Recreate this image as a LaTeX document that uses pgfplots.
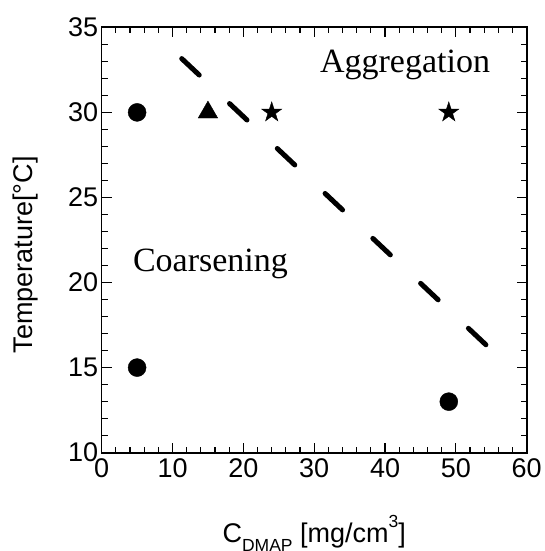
\documentclass[border=0pt]{standalone}
\usepackage{fontspec}
\setmainfont{Liberation Sans}
\newfontfamily\timesfont{Liberation Serif}
\usepackage{pgfplots}
\pgfplotsset{compat=1.18}
\pgfdeclareplotmark{fstar}{%
  \pgfpathmoveto{\pgfpointpolar{90}{\pgfplotmarksize}}%
  \pgfpathlineto{\pgfpointpolar{126}{0.382\pgfplotmarksize}}%
  \pgfpathlineto{\pgfpointpolar{162}{\pgfplotmarksize}}%
  \pgfpathlineto{\pgfpointpolar{198}{0.382\pgfplotmarksize}}%
  \pgfpathlineto{\pgfpointpolar{234}{\pgfplotmarksize}}%
  \pgfpathlineto{\pgfpointpolar{270}{0.382\pgfplotmarksize}}%
  \pgfpathlineto{\pgfpointpolar{306}{\pgfplotmarksize}}%
  \pgfpathlineto{\pgfpointpolar{342}{0.382\pgfplotmarksize}}%
  \pgfpathlineto{\pgfpointpolar{18}{\pgfplotmarksize}}%
  \pgfpathlineto{\pgfpointpolar{54}{0.382\pgfplotmarksize}}%
  \pgfpathclose
  \pgfusepathqfillstroke}
\begin{document}
\begin{tikzpicture}
\path[use as bounding box] (-101.7pt,-98.3pt) rectangle (442.3pt,452.7pt);
\begin{axis}[
  at={(0pt,0pt)}, anchor=south west,
  scale only axis, width=425pt, height=425.4pt,
  xmin=0, xmax=60, ymin=10, ymax=35,
  xtick={0,10,...,60}, ytick={10,15,...,35},
  minor x tick num=4, minor y tick num=4,
  tick align=inside,
  major tick length=10pt, minor tick length=6pt,
  axis line style={line width=1.6pt},
  every tick/.style={line width=1.1pt, black},
  /pgf/number format/assume math mode=true,
  ticklabel style={font=\fontsize{27}{32}\selectfont},
  xticklabel style={yshift=-2pt},
  xlabel={C\raisebox{-9.6pt}{\fontsize{17.5}{20}\selectfont DMAP} [mg/cm\raisebox{14.4pt}{\fontsize{17.5}{20}\selectfont 3}]},
  ylabel={Temperature[°C]},
  label style={font=\fontsize{27}{32}\selectfont},
  xlabel style={at={(axis description cs:0.5,-0.21)}, anchor=base, inner sep=0pt},
  ylabel style={at={(axis description cs:-0.2087,0.465)}, anchor=north, inner sep=0pt},
  clip=false,
]
\addplot[black, line width=5pt, line cap=round, dash pattern=on 24pt off 41.6pt]
  coordinates {(11.3,33.16) (54.4,16.28)};
\addplot[only marks, mark=*, mark size=9pt, black]
  coordinates {(5,30) (5,15) (49,13)};
\addplot[only marks, mark=triangle*, mark size=11.3pt, black]
  coordinates {(15,30)};
\addplot[only marks, mark=fstar, mark size=10.5pt, black]
  coordinates {(24,30) (49,30)};
\node[anchor=base west, inner sep=0pt, font=\timesfont\fontsize{34}{40}\selectfont] at (axis cs:30.8,32.36) {Aggregation};
\node[anchor=base west, inner sep=0pt, font=\timesfont\fontsize{34}{40}\selectfont] at (axis cs:4.4,20.65) {Coarsening};
\end{axis}
\end{tikzpicture}
\end{document}
